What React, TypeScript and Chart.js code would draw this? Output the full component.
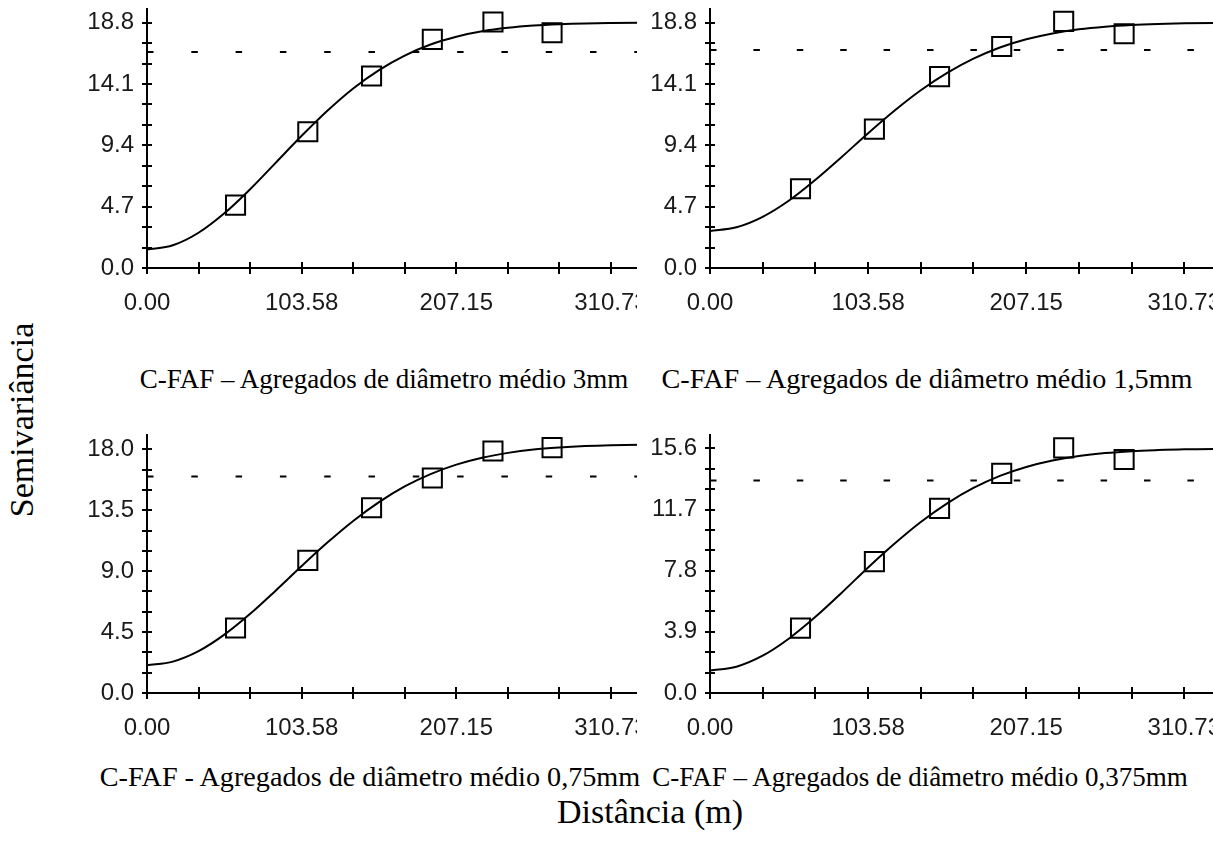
import React, { useEffect, useRef } from "react";
import { Chart, registerables } from "chart.js";

Chart.register(...registerables);

// ---------- DATA ----------
// distances (m) at which the fitted model curve was read off the picture
const curveDistances = [0, 17.3, 34.5, 51.8, 69.1, 86.3, 103.6, 120.8, 138.1, 155.4, 172.6, 189.9, 207.2, 224.4, 241.7, 258.9, 276.2, 293.4, 310.7, 340];

// fitted model curves (semivariance)
const curve3mm = [1.41, 1.74, 2.7, 4.19, 6.04, 8.08, 10.13, 12.05, 13.76, 15.17, 16.28, 17.13, 17.73, 18.14, 18.41, 18.58, 18.68, 18.74, 18.77, 18.8];
const curve15mm = [2.84, 3.12, 3.92, 5.17, 6.76, 8.51, 10.33, 12.05, 13.62, 14.95, 16.04, 16.9, 17.53, 17.98, 18.29, 18.49, 18.62, 18.7, 18.75, 18.79];
const curve075mm = [2.05, 2.32, 3.09, 4.31, 5.85, 7.58, 9.38, 11.11, 12.71, 14.1, 15.26, 16.17, 16.87, 17.38, 17.74, 17.99, 18.14, 18.24, 18.3, 18.35];
const curve0375mm = [1.44, 1.68, 2.38, 3.48, 4.86, 6.4, 8.01, 9.52, 10.91, 12.1, 13.08, 13.85, 14.42, 14.83, 15.12, 15.31, 15.43, 15.5, 15.55, 15.58];

// experimental semivariogram lags (m)
const lagDistances = [59.3, 107.7, 150.4, 191.1, 231.7, 271.3];
const points3mm = [4.82, 10.44, 14.72, 17.52, 18.85, 18.03];
const points15mm = [6.07, 10.64, 14.67, 16.97, 18.9, 17.95];
const points075mm = [4.8, 9.8, 13.68, 15.88, 17.88, 18.13];
const points0375mm = [4.14, 8.38, 11.78, 14.01, 15.64, 14.9];

// sample variance (dashed line)
const sill3mm = 16.55;
const sill15mm = 16.7;
const sill075mm = 16.0;
const sill0375mm = 13.55;

// tick labels
const xMajorTicks = [0, 103.58, 207.15, 310.73];
const xTickLabels = ["0.00", "103.58", "207.15", "310.73"];
const yMajors3mm = [0, 4.7, 9.4, 14.1, 18.8];
const yLabels3mm = ["0.0", "4.7", "9.4", "14.1", "18.8"];
const yMajors15mm = [0, 4.7, 9.4, 14.1, 18.8];
const yLabels15mm = ["0.0", "4.7", "9.4", "14.1", "18.8"];
const yMajors075mm = [0, 4.5, 9.0, 13.5, 18.0];
const yLabels075mm = ["0.0", "4.5", "9.0", "13.5", "18.0"];
const yMajors0375mm = [0, 3.9, 7.8, 11.7, 15.6];
const yLabels0375mm = ["0.0", "3.9", "7.8", "11.7", "15.6"];

const captions = [
  "C-FAF – Agregados de diâmetro médio 3mm",
  "C-FAF – Agregados de diâmetro médio 1,5mm",
  "C-FAF - Agregados de diâmetro médio 0,75mm",
  "C-FAF – Agregados de diâmetro médio 0,375mm",
];
const xTitle = "Distância (m)";
const yTitle = "Semivariância";

// ---------- LAYOUT ----------
type PanelDef = {
  clip: { left: number; top: number; width: number; height: number };
  axisX: number;
  axisTop: number;
  zeroY: number;
  pxPerUnit: number;
  dash: number[];
  yMax: number;
  yMajors: number[];
  yLabels: string[];
  curve: number[];
  points: number[];
  sill: number;
};

const panels: PanelDef[] = [
  { clip: { left: 0, top: 0, width: 637, height: 335 }, axisX: 147, axisTop: 9, zeroY: 268, pxPerUnit: 1.508, dash: [6.5, 37.8], yMax: 19.85, yMajors: yMajors3mm, yLabels: yLabels3mm, curve: curve3mm, points: points3mm, sill: sill3mm },
  { clip: { left: 637, top: 0, width: 576, height: 335 }, axisX: 710, axisTop: 9, zeroY: 268, pxPerUnit: 1.541, dash: [6.5, 36.9], yMax: 19.85, yMajors: yMajors15mm, yLabels: yLabels15mm, curve: curve15mm, points: points15mm, sill: sill15mm },
  { clip: { left: 0, top: 420, width: 637, height: 335 }, axisX: 147, axisTop: 435, zeroY: 693, pxPerUnit: 1.508, dash: [6.5, 37.8], yMax: 19.06, yMajors: yMajors075mm, yLabels: yLabels075mm, curve: curve075mm, points: points075mm, sill: sill075mm },
  { clip: { left: 637, top: 420, width: 576, height: 335 }, axisX: 710, axisTop: 435, zeroY: 693, pxPerUnit: 1.541, dash: [6.5, 36.9], yMax: 16.46, yMajors: yMajors0375mm, yLabels: yLabels0375mm, curve: curve0375mm, points: points0375mm, sill: sill0375mm },
];

function withMinorTicks(majors: number[]): number[] {
  const out: number[] = [];
  for (let i = 0; i < majors.length - 1; i++) {
    const step = (majors[i + 1] - majors[i]) / 3;
    for (let k = 0; k < 3; k++) out.push(majors[i] + k * step);
  }
  out.push(majors[majors.length - 1]);
  return out;
}

const innerTicks = {
  id: "innerTicks",
  afterDraw(chart: any) {
    const ctx = chart.ctx;
    const xs = chart.scales.x;
    const ys = chart.scales.y;
    const area = chart.chartArea;
    ctx.save();
    ctx.strokeStyle = "#000";
    ctx.lineWidth = 2;
    ctx.beginPath();
    xs.ticks.forEach((t: any) => {
      const px = Math.round(xs.getPixelForValue(t.value));
      ctx.moveTo(px, area.bottom);
      ctx.lineTo(px, area.bottom - 6);
    });
    ys.ticks.forEach((t: any) => {
      const py = Math.round(ys.getPixelForValue(t.value));
      ctx.moveTo(area.left, py);
      ctx.lineTo(area.left + 5, py);
    });
    ctx.stroke();
    ctx.restore();
  },
};

const AXIS_W = 80;
const PAD_T = 26; // must exceed the y-axis label padding Chart.js reserves at the top
const AXIS_H = 60;
const PAD_R = 10;
const X_MAX = 360;
const TICK_FONT = { family: '"Liberation Sans", Arial, sans-serif', size: 24 };

function Panel({ p }: { p: PanelDef }) {
  const ref = useRef<HTMLCanvasElement>(null);
  const areaW = Math.round(X_MAX * p.pxPerUnit);
  const canvasW = AXIS_W + areaW + PAD_R;
  const areaH = p.zeroY - p.axisTop;
  const canvasH = PAD_T + areaH + AXIS_H;
  const canvasLeft = p.axisX - AXIS_W - p.clip.left;
  const canvasTop = p.axisTop - PAD_T - p.clip.top;

  useEffect(() => {
    const xTicks = withMinorTicks(xMajorTicks);
    const yTicks = withMinorTicks(p.yMajors);
    const chart = new Chart(ref.current as HTMLCanvasElement, {
      type: "scatter",
      data: {
        datasets: [
          {
            data: lagDistances.map((x, i) => ({ x, y: p.points[i] })),
            showLine: false,
            pointStyle: "rect",
            pointRadius: 13.5,
            pointBorderWidth: 2,
            pointBorderColor: "#000",
            pointBackgroundColor: "rgba(0,0,0,0)",
            clip: false as any,
          },
          {
            data: curveDistances.map((x, i) => ({ x, y: p.curve[i] })),
            showLine: true,
            borderColor: "#000",
            borderWidth: 2,
            pointRadius: 0,
            cubicInterpolationMode: "monotone",
          },
          {
            data: [
              { x: 0, y: p.sill },
              { x: X_MAX, y: p.sill },
            ],
            showLine: true,
            borderColor: "#000",
            borderWidth: 2,
            borderDash: p.dash,
            pointRadius: 0,
          },
        ] as any,
      },
      options: {
        responsive: false,
        animation: false,
        devicePixelRatio: 1,
        layout: { padding: { left: 0, top: PAD_T, right: PAD_R, bottom: 0 } },
        plugins: { legend: { display: false }, tooltip: { enabled: false } },
        events: [],
        scales: {
          x: {
            type: "linear",
            min: 0,
            max: X_MAX,
            afterBuildTicks: (s: any) => {
              s.ticks = xTicks.map((v) => ({ value: v }));
            },
            afterFit: (s: any) => {
              s.height = AXIS_H;
            },
            grid: { drawOnChartArea: false, drawTicks: true, tickLength: 6, color: "#000", lineWidth: 2 },
            border: { display: true, color: "#000", width: 2 },
            ticks: {
              autoSkip: false,
              maxRotation: 0,
              minRotation: 0,
              padding: 15,
              color: "#1a1a1a",
              font: TICK_FONT,
              callback: (_v: any, i: number) => (i % 3 === 0 ? xTickLabels[i / 3] : ""),
            },
          },
          y: {
            type: "linear",
            min: 0,
            max: p.yMax,
            afterBuildTicks: (s: any) => {
              s.ticks = yTicks.map((v) => ({ value: v }));
            },
            afterFit: (s: any) => {
              s.width = AXIS_W;
            },
            grid: { drawOnChartArea: false, drawTicks: true, tickLength: 5, color: "#000", lineWidth: 2 },
            border: { display: true, color: "#000", width: 2 },
            ticks: {
              autoSkip: false,
              padding: 8,
              color: "#1a1a1a",
              font: TICK_FONT,
              callback: (_v: any, i: number) => (i % 3 === 0 ? p.yLabels[i / 3] : ""),
            },
          },
        },
      } as any,
      plugins: [innerTicks],
    });
    return () => chart.destroy();
  }, []);

  return (
    <div
      style={{
        position: "absolute",
        left: p.clip.left,
        top: p.clip.top,
        width: p.clip.width,
        height: p.clip.height,
        overflow: "hidden",
      }}
    >
      <canvas
        ref={ref}
        width={canvasW}
        height={canvasH}
        style={{ position: "absolute", left: canvasLeft, top: canvasTop, width: canvasW, height: canvasH }}
      />
    </div>
  );
}

const SERIF = '"Liberation Serif", "Times New Roman", serif';

function Label({ text, cx, cy, size }: { text: string; cx: number; cy: number; size: number }) {
  return (
    <div
      style={{
        position: "absolute",
        left: cx - 400,
        top: cy - size / 2,
        width: 800,
        height: size,
        lineHeight: `${size}px`,
        fontSize: size,
        fontFamily: SERIF,
        textAlign: "center",
        whiteSpace: "nowrap",
        color: "#000",
      }}
    >
      {text}
    </div>
  );
}

export default function App() {
  return (
    <div
      style={{
        position: "absolute",
        left: 0,
        top: 0,
        width: 1213,
        height: 856,
        overflow: "hidden",
        background: "#fff",
      }}
    >
      {panels.map((p, i) => (
        <Panel key={i} p={p} />
      ))}
      <Label text={captions[0]} cx={384} cy={379} size={27} />
      <Label text={captions[1]} cx={927} cy={379} size={28.2} />
      <Label text={captions[2]} cx={370} cy={777} size={28.2} />
      <Label text={captions[3]} cx={920} cy={777} size={27} />
      <Label text={xTitle} cx={650} cy={812} size={34} />
      <div
        style={{
          position: "absolute",
          left: 22 - 200,
          top: 420 - 17,
          width: 400,
          height: 34,
          lineHeight: "34px",
          fontSize: 34,
          fontFamily: SERIF,
          textAlign: "center",
          whiteSpace: "nowrap",
          transform: "rotate(-90deg)",
          color: "#000",
        }}
      >
        {yTitle}
      </div>
    </div>
  );
}
